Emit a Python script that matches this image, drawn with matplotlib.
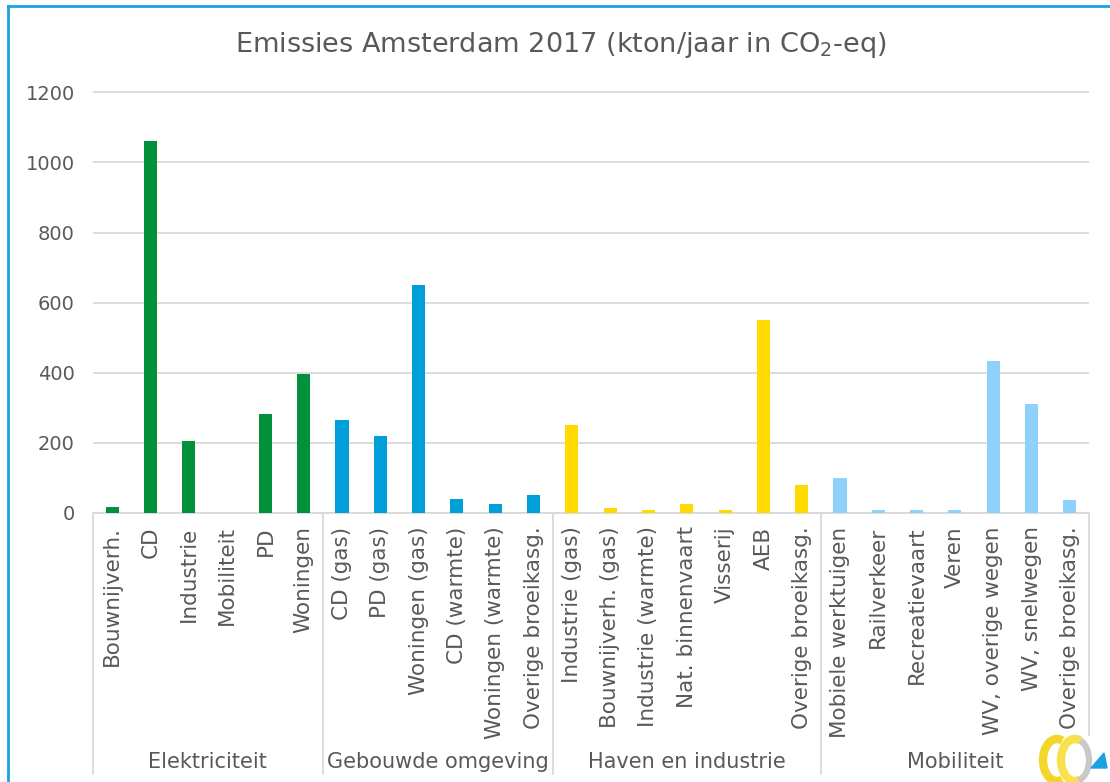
import numpy as np
import matplotlib
matplotlib.use("Agg")
import matplotlib.pyplot as plt
from matplotlib.lines import Line2D
from matplotlib.patches import Arc, Polygon

# data
groups = ["Elektriciteit", "Gebouwde omgeving", "Haven en industrie", "Mobiliteit"]
elek_cats = ["Bouwnijverh.", "CD", "Industrie", "Mobiliteit", "PD", "Woningen"]
elek_vals = [16, 1060, 204, 0, 281, 397]
gebouw_cats = ["CD (gas)", "PD (gas)", "Woningen (gas)", "CD (warmte)",
               "Woningen (warmte)", "Overige broeikasg."]
gebouw_vals = [264, 220, 649, 39, 23, 50]
haven_cats = ["Industrie (gas)", "Bouwnijverh. (gas)", "Industrie (warmte)",
              "Nat. binnenvaart", "Visserij", "AEB", "Overige broeikasg."]
haven_vals = [249, 14, 6, 23, 6, 551, 80]
mob_cats = ["Mobiele werktuigen", "Railverkeer", "Recreatievaart", "Veren",
            "WV, overige wegen", "WV, snelwegen", "Overige broeikasg."]
mob_vals = [100, 6, 6, 6, 434, 309, 37]

group_colors = ["#00913a", "#009fda", "#ffd900", "#8ed1fa"]

cats = elek_cats + gebouw_cats + haven_cats + mob_cats
vals = elek_vals + gebouw_vals + haven_vals + mob_vals
sizes = [len(elek_cats), len(gebouw_cats), len(haven_cats), len(mob_cats)]
colors = []
for c, n in zip(group_colors, sizes):
    colors += [c] * n

W, H = 1110, 782
fig = plt.figure(figsize=(W / 100, H / 100), dpi=100)
fig.patch.set_facecolor("white")

# plot area in pixels (ymax a little above 1200 so the top gridline shows)
ymax = 1210
x0, x1, ybot = 93, 1089, 512.5
ppu = 0.35  # pixels per kton
ytop = ybot - ymax * ppu
ax = fig.add_axes([x0 / W, 1 - ybot / H, (x1 - x0) / W, (ybot - ytop) / H])

grey = "#595959"
x = np.arange(len(cats))
ax.bar(x, vals, width=0.34, color=colors, zorder=3)

ax.set_xlim(-0.5, len(cats) - 0.5)
ax.set_ylim(0, ymax)
ax.set_yticks(range(0, 1201, 200))
ax.yaxis.grid(True, color="#d9d9d9", linewidth=1.3, zorder=0)
for s in ["top", "right", "left"]:
    ax.spines[s].set_visible(False)
ax.spines["bottom"].set_color("#d9d9d9")
ax.spines["bottom"].set_linewidth(1.3)
ax.tick_params(axis="y", length=0, pad=13, labelsize=14, labelcolor=grey)
ax.set_xticks(x)
ax.set_xticklabels(cats, rotation=90, fontsize=15.5, color=grey)
ax.tick_params(axis="x", length=0, pad=10)

fig.text(561 / W, 1 - 45 / H, "Emissies Amsterdam 2017 (kton/jaar in CO$_2$-eq)",
         fontsize=19.5, color=grey, ha="center", va="center")

# group boxes under the category axis
px = ybot - ytop
def fy(ypix):
    return (ybot - ypix) / px

trans = ax.get_xaxis_transform()
edges = np.concatenate([[0], np.cumsum(sizes)]) - 0.5
for i, e in enumerate(edges):
    yend = 735 if i == len(edges) - 1 else 774
    ax.add_line(Line2D([e, e], [0, fy(yend)], transform=trans, color="#d9d9d9",
                       linewidth=1.3, clip_on=False))
for g, a, b in zip(groups, edges[:-1], edges[1:]):
    ax.text((a + b) / 2, fy(762), g, transform=trans, ha="center", va="center",
            fontsize=15, color=grey)

# blue frame
fig.add_artist(Line2D([7.5 / W, 7.5 / W], [0, 1 - 6 / H], color="#1ba1e2", linewidth=2))
fig.add_artist(Line2D([7.5 / W, 1], [1 - 6 / H, 1 - 6 / H], color="#1ba1e2", linewidth=2))

# small logo in the corner (1 unit = 1 pixel)
lax = fig.add_axes([1036 / W, 0, 74 / W, 50 / H])
lax.set_xlim(0, 74)
lax.set_ylim(0, 50)
lax.axis("off")
lax.add_patch(Arc((21, 22), 28, 42, theta1=75, theta2=285, color="#f2d72a", linewidth=6))
lax.add_patch(Arc((39, 22), 28, 42, theta1=75, theta2=285, color="#f7e24e", linewidth=6))
lax.add_patch(Arc((39, 22), 28, 42, theta1=-80, theta2=75, color="#c9c9c9", linewidth=4.5))
lax.add_patch(Polygon([[55, 14], [71, 14], [68, 29]], closed=True, color="#1ba1e2"))

fig.savefig("out.png", dpi=100, facecolor="white")
